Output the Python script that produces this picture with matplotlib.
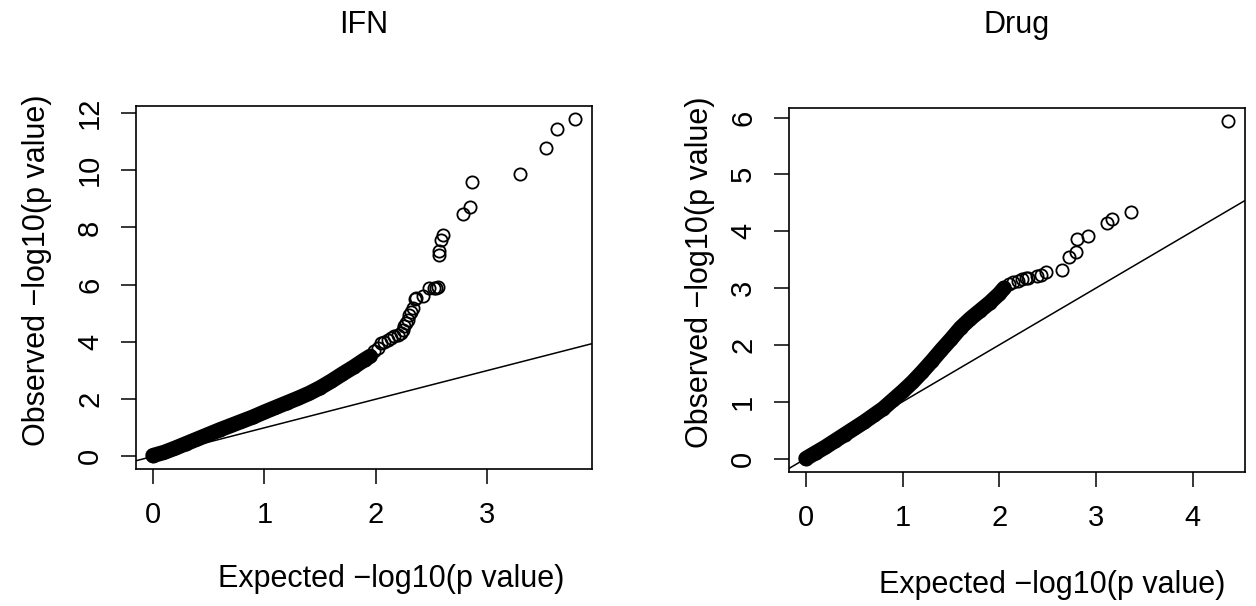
import matplotlib
matplotlib.use("Agg")
import matplotlib.pyplot as plt

plt.rcParams['font.family'] = ['Liberation Sans', 'DejaVu Sans']

# IFN: dense part (drawn as a solid band of overlapping circles) and the sparse tail
ifn_band_x = [0.0, 0.1, 0.2, 0.3, 0.4, 0.5, 0.6, 0.7, 0.8, 0.9, 1.0, 1.1, 1.2,
              1.3, 1.4, 1.5, 1.6, 1.7, 1.8, 1.9, 1.95]
ifn_band_y = [0.03, 0.14, 0.29, 0.45, 0.61, 0.77, 0.93, 1.08, 1.23, 1.38, 1.55,
              1.71, 1.87, 2.03, 2.2, 2.4, 2.63, 2.88, 3.12, 3.38, 3.5]
ifn_tail_x = [1.985, 2.02, 2.045, 2.075, 2.105, 2.135, 2.165, 2.195, 2.225, 2.24,
              2.255, 2.27, 2.285, 2.30, 2.315, 2.33, 2.35, 2.36, 2.427, 2.48,
              2.525, 2.535, 2.555, 2.562, 2.565, 2.586, 2.60, 2.781, 2.847, 2.859,
              3.297, 3.523, 3.624, 3.787]
ifn_tail_y = [3.67, 3.8, 3.96, 4.0, 4.08, 4.13, 4.19, 4.25, 4.31, 4.42,
              4.54, 4.66, 4.77, 4.95, 5.05, 5.18, 5.5, 5.53, 5.59, 5.88,
              5.88, 5.90, 5.93, 7.04, 7.19, 7.56, 7.73, 8.48, 8.72, 9.59,
              9.88, 10.78, 11.43, 11.77]

# Drug
drug_band_x = [0.0, 0.1, 0.2, 0.3, 0.4, 0.5, 0.6, 0.7, 0.8, 0.9, 1.0, 1.1, 1.2,
               1.3, 1.4, 1.5, 1.6, 1.7, 1.8, 1.9, 2.0, 2.05]
drug_band_y = [0.0, 0.1, 0.2, 0.31, 0.42, 0.53, 0.64, 0.76, 0.88, 1.03, 1.18,
               1.34, 1.52, 1.71, 1.91, 2.1, 2.3, 2.46, 2.6, 2.74, 2.9, 3.0]
drug_tail_x = [2.1, 2.14, 2.19, 2.23, 2.276, 2.3, 2.39, 2.427, 2.486, 2.645,
               2.724, 2.79, 2.806, 2.917, 3.117, 3.161, 3.358, 4.365]
drug_tail_y = [3.07, 3.1, 3.12, 3.15, 3.18, 3.18, 3.22, 3.23, 3.29, 3.32,
               3.55, 3.63, 3.87, 3.91, 4.14, 4.22, 4.33, 5.93]

titles = ['IFN', 'Drug']
xticks = [[0, 1, 2, 3], [0, 1, 2, 3, 4]]
yticks = [[0, 2, 4, 6, 8, 10, 12], [0, 1, 2, 3, 4, 5, 6]]

W, H = 1256, 606
fig = plt.figure(figsize=(W / 100, H / 100), dpi=100)

# axes boxes in pixels: left, top, right, bottom
boxes = [(136, 106, 592, 469), (789, 108, 1245, 472)]
series = [(ifn_band_x, ifn_band_y, ifn_tail_x, ifn_tail_y),
          (drug_band_x, drug_band_y, drug_tail_x, drug_tail_y)]
title_pos = [(363.5, 33), (1017, 33)]
xlab_pos = [(391, 587), (1052, 593)]
ylab_pos = [(37, 270), (700, 272)]

lab = 'Expected \u2212log10(p value)'
ylab = 'Observed \u2212log10(p value)'

for i in range(2):
    l, t, r, b = boxes[i]
    ax = fig.add_axes([l / W, 1 - b / H, (r - l) / W, (b - t) / H])
    bx, by, tx, ty = series[i]

    ax.plot(bx, by, color='black', lw=11, solid_capstyle='round',
            solid_joinstyle='round', zorder=2)
    ax.plot(bx + tx, by + ty, 'o', ms=8.8, mfc='none', mec='black', mew=1.3, zorder=3)
    ax.axline((0, 0), slope=1, color='black', lw=1.1, zorder=4)

    allx = bx + tx
    ally = by + ty
    rx = max(allx) - min(allx)
    ry = max(ally) - min(ally)
    ax.set_xlim(min(allx) - 0.04 * rx, max(allx) + 0.04 * rx)
    ax.set_ylim(min(ally) - 0.04 * ry, max(ally) + 0.04 * ry)

    ax.set_xticks(xticks[i])
    ax.set_yticks(yticks[i])
    ax.tick_params(direction='out', length=11, width=1.1, pad=12,
                   labelsize=21, color='black')
    for lbl in ax.get_yticklabels():
        lbl.set_rotation(90)
        lbl.set_va('center')
    for s in ax.spines.values():
        s.set_linewidth(1.2)

    fig.text(title_pos[i][0] / W, 1 - title_pos[i][1] / H, titles[i],
             ha='center', va='baseline', fontsize=22)
    fig.text(xlab_pos[i][0] / W, 1 - xlab_pos[i][1] / H, lab,
             ha='center', va='baseline', fontsize=22)
    fig.text(ylab_pos[i][0] / W, 1 - ylab_pos[i][1] / H, ylab,
             ha='center', va='center', rotation=90, fontsize=22)

fig.savefig('out.png', dpi=100)
